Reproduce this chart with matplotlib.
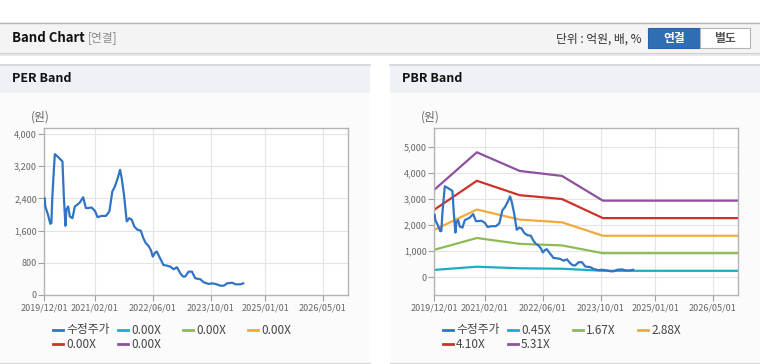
import matplotlib
matplotlib.use("Agg")
import matplotlib.pyplot as plt
import matplotlib.dates as mdates
from matplotlib.patches import Rectangle
from matplotlib.lines import Line2D
import pandas as pd

plt.rcParams['font.family'] = ['Noto Sans CJK KR', 'DejaVu Sans']

W, H = 760, 364

# 수정주가 (adjusted price)
price_dates = [
    "2019-12-07", "2019-12-12", "2020-01-04", "2020-01-23", "2020-02-01", "2020-02-09",
    "2020-02-21", "2020-03-01", "2020-03-28", "2020-05-04", "2020-05-15", "2020-05-29",
    "2020-06-06", "2020-06-21", "2020-07-05", "2020-07-27", "2020-08-16", "2020-09-04",
    "2020-09-27", "2020-10-25", "2020-11-17", "2020-12-06", "2021-01-03", "2021-02-01",
    "2021-02-23", "2021-03-29", "2021-05-04", "2021-06-02", "2021-06-27", "2021-07-19",
    "2021-08-11", "2021-08-31", "2021-09-14", "2021-10-03", "2021-10-26", "2021-11-17",
    "2021-12-07", "2021-12-29", "2022-01-24", "2022-02-21", "2022-03-15", "2022-04-04",
    "2022-04-27", "2022-05-16", "2022-06-02", "2022-06-22", "2022-07-06", "2022-07-26",
    "2022-08-31", "2022-09-28", "2022-10-27", "2022-11-24", "2022-12-22", "2023-01-19",
    "2023-02-10", "2023-03-02", "2023-03-30", "2023-04-27", "2023-05-25", "2023-07-07",
    "2023-08-04", "2023-09-15", "2023-10-13", "2023-11-10", "2023-12-22", "2024-01-20",
    "2024-02-17", "2024-03-30", "2024-04-27", "2024-06-08", "2024-07-01",
]
price_values = [
    2400, 2200, 1990, 1770, 1785, 2430,
    3070, 3500, 3430, 3320, 2490, 1720,
    2120, 2200, 1950, 1910, 2200, 2240,
    2300, 2430, 2160, 2160, 2175, 2090,
    1935, 1965, 1965, 2075, 2570, 2700,
    2900, 3110, 2900, 2490, 1830, 1910,
    1870, 1700, 1620, 1600, 1410, 1290,
    1220, 1120, 955, 1055, 1080, 955,
    745, 730, 705, 640, 690, 540,
    460, 460, 580, 580, 415, 390,
    315, 275, 290, 275, 232, 232,
    290, 305, 265, 265, 290,
]

# PBR band lines
band_dates = ["2019-12-01", "2020-11-25", "2021-11-20", "2022-11-10", "2023-10-20", "2026-12-01"]
pbr_045 = [284, 407, 347, 330, 250, 250]
pbr_167 = [1055, 1511, 1286, 1226, 927, 927]
pbr_288 = [1820, 2606, 2218, 2114, 1598, 1598]
pbr_410 = [2591, 3711, 3157, 3009, 2276, 2276]
pbr_531 = [3356, 4806, 4089, 3898, 2947, 2947]

per_labels = ["수정주가", "0.00X", "0.00X", "0.00X", "0.00X", "0.00X"]
pbr_labels = ["수정주가", "0.45X", "1.67X", "2.88X", "4.10X", "5.31X"]
colors = ["#3174c6", "#1bafc3", "#8dbb56", "#f2aa3c", "#cf3229", "#8d51a0"]

x_ticks = ["2019-12-01", "2021-02-01", "2022-06-01", "2023-10-01", "2025-01-01", "2026-05-01"]
x_range = ["2019-12-01", "2026-11-28"]


def fx(x):
    return x / W


def fy(y):
    return 1 - y / H


def rect(fig, x0, y0, x1, y1, **kw):
    fig.patches.append(Rectangle((fx(x0), fy(y1)), (x1 - x0) / W, (y1 - y0) / H,
                                 transform=fig.transFigure, zorder=-10, **kw))


def hline(fig, x0, x1, y, color, lw=1.0):
    fig.lines.append(Line2D([fx(x0), fx(x1)], [fy(y), fy(y)], transform=fig.transFigure,
                            color=color, lw=lw, zorder=-5))


def to_num(dates):
    return mdates.date2num(pd.to_datetime(dates))


fig = plt.figure(figsize=(W / 100, H / 100), dpi=100)
fig.patch.set_facecolor("white")

# header bar
rect(fig, 0, 22, W, 53, facecolor="#f4f4f4", edgecolor="none")
hline(fig, 0, W, 22.5, "#b9b9b9")
hline(fig, 0, W, 53.5, "#c4c4c4", lw=1.2)
hline(fig, 0, W, 55, "#e8e8e8", lw=1.5)
fig.text(fx(12), fy(38), "Band Chart", fontsize=9.5, fontweight="bold", color="#111111", va="center")
fig.text(fx(88), fy(38), "[연결]", fontsize=8.5, color="#8a8a8a", va="center")
fig.text(fx(642), fy(39), "단위 : 억원, 배, %", fontsize=8.5, color="#333333", va="center", ha="right")
rect(fig, 648, 28.5, 700, 47.5, facecolor="#2f6db4", edgecolor="#2a63a6", lw=0.8)
rect(fig, 700, 28.5, 750, 47.5, facecolor="white", edgecolor="#b5b5b5", lw=0.8)
fig.text(fx(674), fy(38.5), "연결", fontsize=8.5, fontweight="bold", color="white", va="center", ha="center")
fig.text(fx(725), fy(38.5), "별도", fontsize=8.5, fontweight="bold", color="#555555", va="center", ha="center")


def draw_panel(x_off, title, ylim, yticks, bands, labels):
    # panel frame
    rect(fig, x_off, 64, x_off + 370, 93, facecolor="#eef2f7", edgecolor="none")
    rect(fig, x_off, 93, x_off + 370, 362, facecolor="#fbfbfb", edgecolor="none")
    hline(fig, x_off, x_off + 370, 64.5, "#d4d4d4", lw=1.2)
    hline(fig, x_off, x_off + 370, 362.5, "#d8d8d8", lw=1.0)
    fig.text(fx(x_off + 12), fy(79), title, fontsize=9, fontweight="bold", color="#111111", va="center")
    fig.text(fx(x_off + 40), fy(117), "(원)", fontsize=8.5, color="#666666", va="center", ha="center")

    ax = fig.add_axes([fx(x_off + 44), fy(295), (348 - 44) / W, (295 - 128) / H])
    ax.set_facecolor("white")
    for name, (vals, color) in bands.items():
        ax.plot(to_num(band_dates), vals, color=color, lw=1.6, solid_capstyle="butt")
    ax.plot(to_num(price_dates), price_values, color=colors[0], lw=1.6, zorder=5)

    ax.set_xlim(to_num(x_range))
    ax.set_ylim(*ylim)
    ax.set_yticks(yticks)
    ax.set_yticklabels([f"{v:,}" for v in yticks])
    ax.set_xticks(to_num(x_ticks))
    ax.set_xticklabels([d.replace("-", "/") for d in x_ticks])
    ax.grid(True, color="#e4e4e4", lw=0.8)
    ax.set_axisbelow(True)
    for sp in ax.spines.values():
        sp.set_color("#b4b4b4")
        sp.set_linewidth(1.0)
    ax.tick_params(axis="both", colors="#a0a0a0", labelcolor="#666666", labelsize=6.5, length=4, width=0.8)
    ax.tick_params(axis="x", pad=2)
    ax.tick_params(axis="y", pad=1)

    # legend, row-major, fixed column spacing
    for i, lab in enumerate(labels):
        col, row = i % 4, i // 4
        lx = x_off + 53 + col * 65
        ly = 330 + row * 14
        fig.lines.append(Line2D([fx(lx), fx(lx + 10)], [fy(ly), fy(ly)], transform=fig.transFigure,
                                color=colors[i], lw=2))
        fig.text(fx(lx + 13), fy(ly), lab, fontsize=8.5, color="#444444", va="center")
    return ax


draw_panel(0, "PER Band", (0, 4150), [0, 800, 1600, 2400, 3200, 4000], {}, per_labels)
draw_panel(390, "PBR Band", (-680, 5740), [0, 1000, 2000, 3000, 4000, 5000],
           {"0.45X": (pbr_045, colors[1]), "1.67X": (pbr_167, colors[2]), "2.88X": (pbr_288, colors[3]),
            "4.10X": (pbr_410, colors[4]), "5.31X": (pbr_531, colors[5])},
           pbr_labels)

fig.savefig("out.png", dpi=100)
